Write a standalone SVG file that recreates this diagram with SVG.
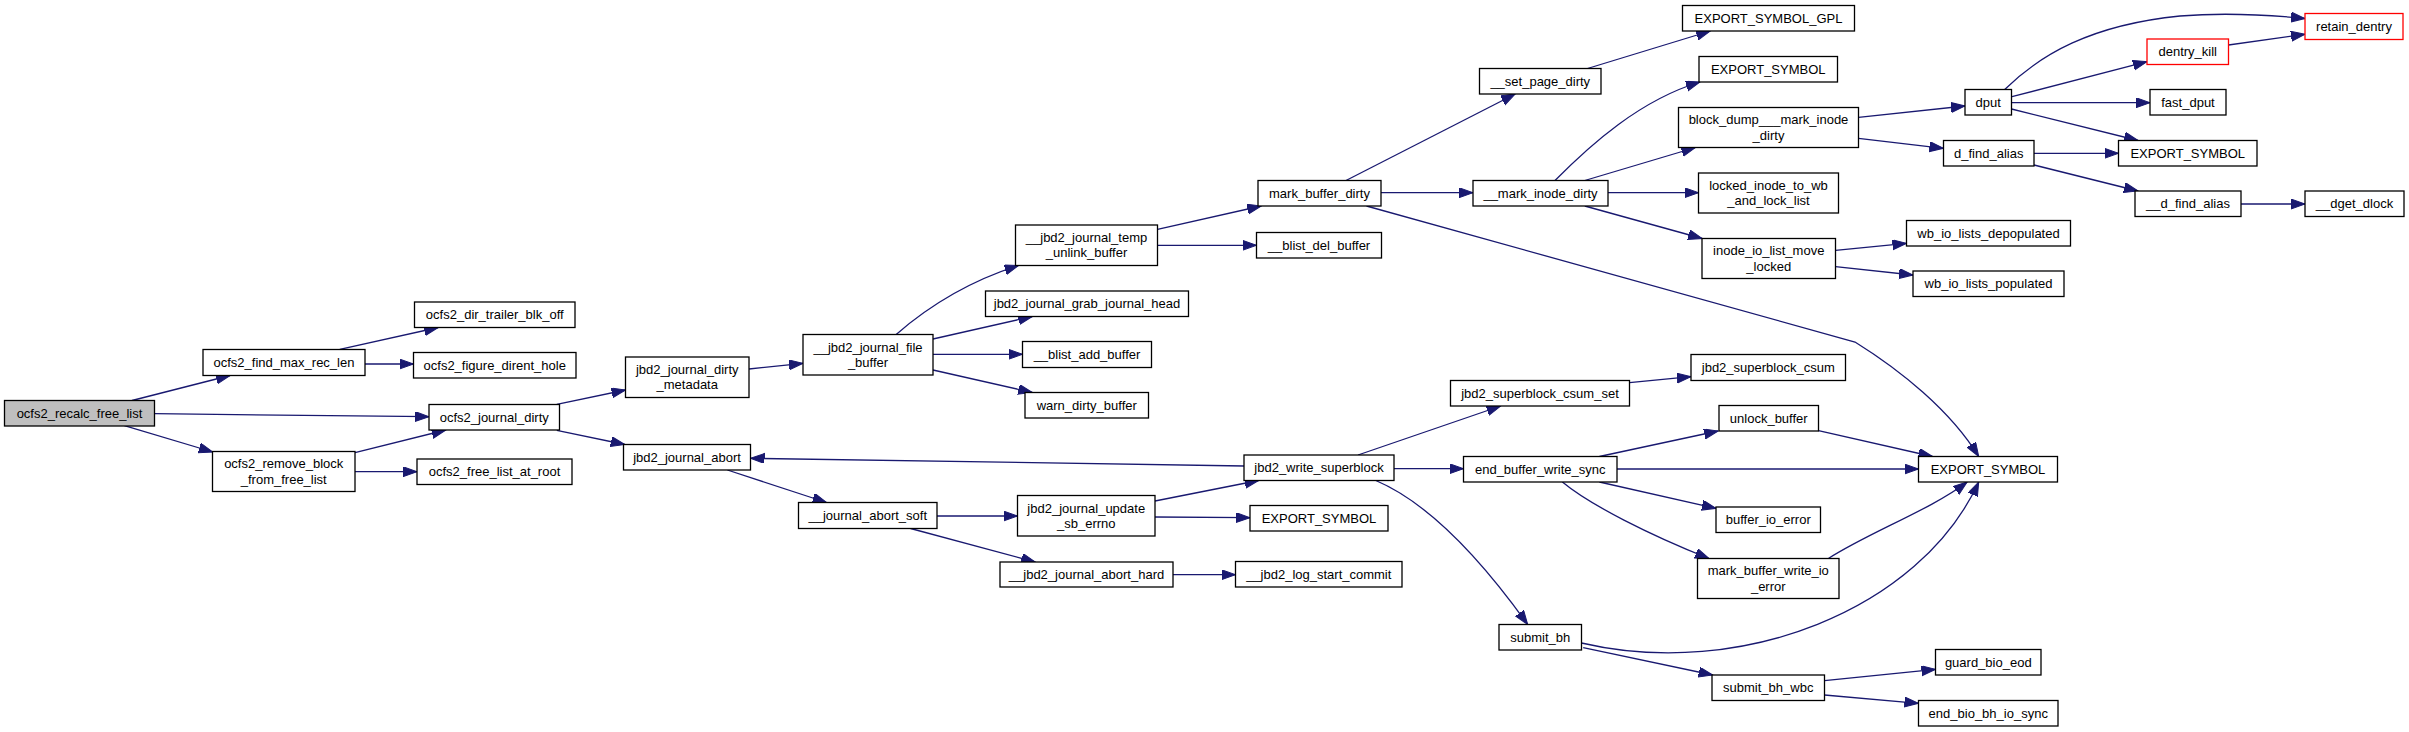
<svg xmlns="http://www.w3.org/2000/svg" width="2409" height="732" viewBox="0 0 2409 732">
<style>
.n rect{fill:#fff;stroke:#000;stroke-width:1.3}
.n.root rect{fill:#bfbfbf}
.n.red rect{stroke:#ff0000}
.n text{font-family:"Liberation Sans",Arial,sans-serif;font-size:13px;fill:#000;text-anchor:middle}
#edges path{fill:none;stroke:#191970;stroke-width:1.3;marker-end:url(#ah)}
</style>
<defs>
<marker id="ah" markerWidth="16" markerHeight="12" refX="14" refY="5" orient="auto" markerUnits="userSpaceOnUse">
<path d="M0,0 L14,5 L0,10 z" fill="#191970" stroke="#191970" stroke-width="1"/>
</marker>
</defs>
<rect width="2409" height="732" fill="#fff"/>
<g id="edges">
<path d="M132,400.5 L230,375.5"/>
<path d="M154.5,413.7 L429,416.7"/>
<path d="M124.4,425.7 L212.8,452"/>
<path d="M339.8,349.3 L438.2,327.5"/>
<path d="M365,364 L413.5,364"/>
<path d="M355,452.7 L445.8,430"/>
<path d="M355,471.7 L417,471.7"/>
<path d="M556.8,404.3 L625.5,390"/>
<path d="M556.8,430.3 L624.8,444.5"/>
<path d="M749,369 L803,363.3"/>
<path d="M896.2,334.5 C930,305 970,281 1018.6,265.5"/>
<path d="M933,339 L1032.3,316.5"/>
<path d="M933,354.3 L1022.5,354.3"/>
<path d="M933,370 L1032.3,392.5"/>
<path d="M1157.5,229.3 L1261.2,206"/>
<path d="M1157.5,245.3 L1256.5,245.3"/>
<path d="M1346,180.5 L1515.2,94"/>
<path d="M1381,192.7 L1473,192.7"/>
<path d="M1366.5,206 L1855,342 C1900,370 1950,410 1978.7,456.5"/>
<path d="M1587.5,68.5 L1710.3,31"/>
<path d="M1555,180.5 C1590,145 1640,100 1700,82"/>
<path d="M1584.8,180.5 L1695.5,147.5"/>
<path d="M1608,192.7 L1698.5,192.7"/>
<path d="M1584.8,206 L1702.2,238.5"/>
<path d="M1858.5,117.3 L1965,106"/>
<path d="M1858.5,138.3 L1943.5,148.3"/>
<path d="M2004.7,89.5 C2040,55 2090,25 2180,16 C2230,12 2270,15 2305,18.5"/>
<path d="M2012,96.7 L2147,61.7"/>
<path d="M2011.5,102.7 L2150,102.7"/>
<path d="M2011.5,109 L2138,140.5"/>
<path d="M2228.5,45 L2305,34.3"/>
<path d="M2034,153.3 L2118.5,153.3"/>
<path d="M2034,165 L2138,191"/>
<path d="M2241,204 L2305,204"/>
<path d="M1835.5,250.3 L1906.5,243.3"/>
<path d="M1835.5,266.7 L1913,275"/>
<path d="M727.4,470 L826.6,502.5"/>
<path d="M937,516 L1017.5,516"/>
<path d="M910.6,528.5 L1035.3,562"/>
<path d="M1155,501 L1258.6,480.5"/>
<path d="M1155,517 L1250,517.7"/>
<path d="M1173,574.7 L1235.5,574.7"/>
<path d="M1244,466 L750.5,458.3"/>
<path d="M1358,455 L1500.7,406"/>
<path d="M1394,468.7 L1463.5,468.7"/>
<path d="M1375.8,480.5 C1410,495 1460,530 1527.7,624.5"/>
<path d="M1629.5,382.7 L1691,376.7"/>
<path d="M1599.4,456.5 L1718.1,431"/>
<path d="M1617,469 L1918.5,469"/>
<path d="M1599.4,482 L1716,508.3"/>
<path d="M1562.4,482 C1590,505 1650,535 1709,558.5"/>
<path d="M1818.5,430.7 L1932.5,456.5"/>
<path d="M1828.4,558.5 C1870,532 1930,510 1967.2,482"/>
<path d="M1581.5,643 C1740,680 1920,610 1978.7,482"/>
<path d="M1583.2,647.7 L1712.7,675"/>
<path d="M1824.5,680.7 L1935.5,669.3"/>
<path d="M1824.5,695 L1918.5,703.3"/>
</g>
<g id="n_recalc" class="n root"><rect x="4.5" y="400.5" width="150" height="25.5"/><text x="79.5" y="417.75">ocfs2_recalc_free_list</text></g>
<g id="n_find_max" class="n"><rect x="203" y="349.5" width="162" height="26"/><text x="284" y="367">ocfs2_find_max_rec_len</text></g>
<g id="n_dir_trailer" class="n"><rect x="414.5" y="302" width="160.5" height="25.5"/><text x="494.75" y="319.25">ocfs2_dir_trailer_blk_off</text></g>
<g id="n_figure_dirent" class="n"><rect x="413.5" y="352.5" width="162.5" height="25.5"/><text x="494.75" y="369.75">ocfs2_figure_dirent_hole</text></g>
<g id="n_journal_dirty" class="n"><rect x="429" y="404.5" width="130.5" height="25.5"/><text x="494.25" y="421.75">ocfs2_journal_dirty</text></g>
<g id="n_remove_block" class="n"><rect x="212.5" y="451.5" width="142.5" height="40"/><text x="283.75" y="468.3">ocfs2_remove_block</text><text x="283.75" y="483.7">_from_free_list</text></g>
<g id="n_free_list_root" class="n"><rect x="417" y="459" width="155" height="25.5"/><text x="494.5" y="476.25">ocfs2_free_list_at_root</text></g>
<g id="n_dirty_metadata" class="n"><rect x="625.5" y="357" width="123.5" height="40.5"/><text x="687.25" y="374.05">jbd2_journal_dirty</text><text x="687.25" y="389.45">_metadata</text></g>
<g id="n_journal_abort" class="n"><rect x="623.5" y="444.5" width="127" height="25.5"/><text x="687" y="461.75">jbd2_journal_abort</text></g>
<g id="n_file_buffer" class="n"><rect x="803" y="334.5" width="130" height="40.5"/><text x="868" y="351.55">__jbd2_journal_file</text><text x="868" y="366.95">_buffer</text></g>
<g id="n_temp_unlink" class="n"><rect x="1015.5" y="225" width="142" height="40.5"/><text x="1086.5" y="242.05">__jbd2_journal_temp</text><text x="1086.5" y="257.45">_unlink_buffer</text></g>
<g id="n_grab_head" class="n"><rect x="985.5" y="291" width="203" height="25.5"/><text x="1087" y="308.25">jbd2_journal_grab_journal_head</text></g>
<g id="n_blist_add" class="n"><rect x="1022.5" y="341.5" width="129" height="26"/><text x="1087" y="359">__blist_add_buffer</text></g>
<g id="n_warn_dirty" class="n"><rect x="1025" y="392.5" width="123.5" height="25.5"/><text x="1086.75" y="409.75">warn_dirty_buffer</text></g>
<g id="n_mark_buffer_dirty" class="n"><rect x="1258" y="180.5" width="123" height="25.5"/><text x="1319.5" y="197.75">mark_buffer_dirty</text></g>
<g id="n_blist_del" class="n"><rect x="1256.5" y="232.5" width="125" height="25.5"/><text x="1319" y="249.75">__blist_del_buffer</text></g>
<g id="n_set_page_dirty" class="n"><rect x="1479.5" y="68.5" width="121.5" height="25.5"/><text x="1540.25" y="85.75">__set_page_dirty</text></g>
<g id="n_mark_inode_dirty" class="n"><rect x="1473" y="180.5" width="135" height="25.5"/><text x="1540.5" y="197.75">__mark_inode_dirty</text></g>
<g id="n_export_gpl" class="n"><rect x="1682.5" y="5.5" width="172" height="25.5"/><text x="1768.5" y="22.75">EXPORT_SYMBOL_GPL</text></g>
<g id="n_export_top" class="n"><rect x="1699" y="56.5" width="138.5" height="25.5"/><text x="1768.25" y="73.75">EXPORT_SYMBOL</text></g>
<g id="n_block_dump" class="n"><rect x="1678.5" y="107.5" width="180" height="40"/><text x="1768.5" y="124.3">block_dump___mark_inode</text><text x="1768.5" y="139.7">_dirty</text></g>
<g id="n_locked_inode" class="n"><rect x="1698.5" y="173" width="140" height="40"/><text x="1768.5" y="189.8">locked_inode_to_wb</text><text x="1768.5" y="205.2">_and_lock_list</text></g>
<g id="n_inode_io_list" class="n"><rect x="1702" y="238.5" width="133.5" height="40"/><text x="1768.75" y="255.3">inode_io_list_move</text><text x="1768.75" y="270.7">_locked</text></g>
<g id="n_dput" class="n"><rect x="1965" y="89.5" width="46.5" height="25.5"/><text x="1988.25" y="106.75">dput</text></g>
<g id="n_d_find_alias" class="n"><rect x="1943.5" y="140.5" width="90.5" height="25.5"/><text x="1988.75" y="157.75">d_find_alias</text></g>
<g id="n_retain_dentry" class="n red"><rect x="2305" y="13.5" width="98" height="26"/><text x="2354" y="31">retain_dentry</text></g>
<g id="n_dentry_kill" class="n red"><rect x="2147" y="39" width="81.5" height="25.5"/><text x="2187.75" y="56.25">dentry_kill</text></g>
<g id="n_fast_dput" class="n"><rect x="2150" y="89.5" width="76" height="25.5"/><text x="2188" y="106.75">fast_dput</text></g>
<g id="n_export_right" class="n"><rect x="2118.5" y="140.5" width="138.5" height="25.5"/><text x="2187.75" y="157.75">EXPORT_SYMBOL</text></g>
<g id="n__d_find_alias" class="n"><rect x="2135" y="191" width="106" height="25.5"/><text x="2188" y="208.25">__d_find_alias</text></g>
<g id="n_dget_dlock" class="n"><rect x="2305" y="191" width="99" height="25.5"/><text x="2354.5" y="208.25">__dget_dlock</text></g>
<g id="n_wb_depop" class="n"><rect x="1906.5" y="220.5" width="164" height="25.5"/><text x="1988.5" y="237.75">wb_io_lists_depopulated</text></g>
<g id="n_wb_pop" class="n"><rect x="1913" y="271" width="151" height="25.5"/><text x="1988.5" y="288.25">wb_io_lists_populated</text></g>
<g id="n_abort_soft" class="n"><rect x="798.5" y="502.5" width="138.5" height="26"/><text x="867.75" y="520">__journal_abort_soft</text></g>
<g id="n_update_sb_errno" class="n"><rect x="1017.5" y="495.5" width="137.5" height="40.5"/><text x="1086.25" y="512.55">jbd2_journal_update</text><text x="1086.25" y="527.95">_sb_errno</text></g>
<g id="n_abort_hard" class="n"><rect x="1000" y="562" width="173" height="25"/><text x="1086.5" y="579">__jbd2_journal_abort_hard</text></g>
<g id="n_write_superblock" class="n"><rect x="1244" y="455" width="150" height="25.5"/><text x="1319" y="472.25">jbd2_write_superblock</text></g>
<g id="n_export_lower" class="n"><rect x="1250" y="505.5" width="138" height="25.5"/><text x="1319" y="522.75">EXPORT_SYMBOL</text></g>
<g id="n_log_start_commit" class="n"><rect x="1235.5" y="561.5" width="166.5" height="25.5"/><text x="1318.75" y="578.75">__jbd2_log_start_commit</text></g>
<g id="n_csum_set" class="n"><rect x="1450.5" y="380.5" width="179" height="25.5"/><text x="1540" y="397.75">jbd2_superblock_csum_set</text></g>
<g id="n_csum" class="n"><rect x="1691" y="354.5" width="154.5" height="26"/><text x="1768.25" y="372">jbd2_superblock_csum</text></g>
<g id="n_end_buffer_write_sync" class="n"><rect x="1463.5" y="456.5" width="153.5" height="25.5"/><text x="1540.25" y="473.75">end_buffer_write_sync</text></g>
<g id="n_unlock_buffer" class="n"><rect x="1719" y="405.5" width="99.5" height="25.5"/><text x="1768.75" y="422.75">unlock_buffer</text></g>
<g id="n_export_big" class="n"><rect x="1918.5" y="456.5" width="139" height="25.5"/><text x="1988" y="473.75">EXPORT_SYMBOL</text></g>
<g id="n_buffer_io_error" class="n"><rect x="1716" y="507" width="104.5" height="25.5"/><text x="1768.25" y="524.25">buffer_io_error</text></g>
<g id="n_mark_buffer_write_io_error" class="n"><rect x="1697.5" y="558.5" width="141.5" height="40"/><text x="1768.25" y="575.3">mark_buffer_write_io</text><text x="1768.25" y="590.7">_error</text></g>
<g id="n_submit_bh" class="n"><rect x="1499" y="624.5" width="82.5" height="25.5"/><text x="1540.25" y="641.75">submit_bh</text></g>
<g id="n_submit_bh_wbc" class="n"><rect x="1712" y="675" width="112.5" height="25.5"/><text x="1768.25" y="692.25">submit_bh_wbc</text></g>
<g id="n_guard_bio_eod" class="n"><rect x="1935.5" y="649.5" width="105.5" height="25.5"/><text x="1988.25" y="666.75">guard_bio_eod</text></g>
<g id="n_end_bio" class="n"><rect x="1918.5" y="700.5" width="139.5" height="25.5"/><text x="1988.25" y="717.75">end_bio_bh_io_sync</text></g>
</svg>
